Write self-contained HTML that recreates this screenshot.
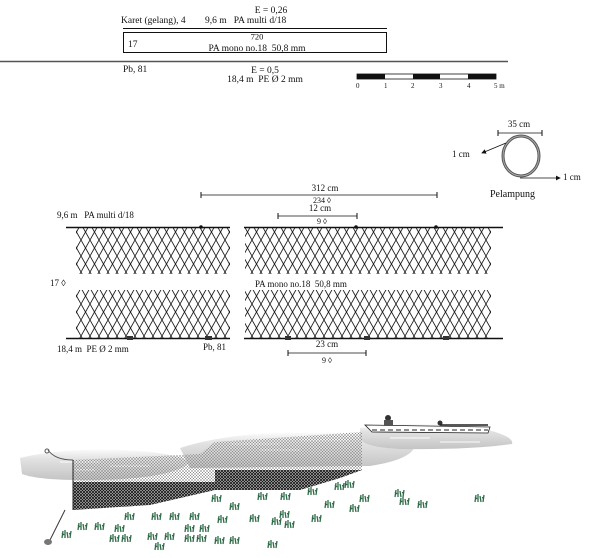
<!DOCTYPE html>
<html><head><meta charset="utf-8"><style>
html,body{margin:0;padding:0;background:#fff;}
svg{display:block;font-family:"Liberation Serif",serif;}
text{fill:#111;}
</style></head><body>
<svg width="604" height="558" viewBox="0 0 604 558" xmlns="http://www.w3.org/2000/svg">
<defs>
<pattern id="mesh" width="9" height="16" patternUnits="userSpaceOnUse">
<path d="M0,0 L4.5,8 L0,16 M9,0 L4.5,8 L9,16" stroke="#222" stroke-width="0.9" fill="none"/>
</pattern>
<pattern id="hatchL" width="3" height="3" patternUnits="userSpaceOnUse">
<path d="M0,0 L3,3 M3,0 L0,3" stroke="#8a8a8a" stroke-width="0.5"/>
</pattern>
<pattern id="hatchD" width="3" height="3" patternUnits="userSpaceOnUse">
<rect width="3" height="3" fill="#ccc"/>
<path d="M0,0 L3,3 M3,0 L0,3" stroke="#111" stroke-width="0.8"/>
</pattern>
<linearGradient id="wg" x1="0" y1="0" x2="0" y2="1">
<stop offset="0" stop-color="#fafafa"/><stop offset="0.3" stop-color="#e2e2e2"/><stop offset="1" stop-color="#c4c4c4"/>
</linearGradient>
<marker id="ab" markerWidth="6" markerHeight="6" refX="5" refY="3" orient="auto"><path d="M0,0 L6,3 L0,6z" fill="#111"/></marker>
<g id="w" stroke="#2e6b46" stroke-width="1.3" fill="none"><path d="M0,0 l1,-7 M3,0 l0,-8 M6,0 l-1,-6 M8,0 l1,-7 M2,-3 l-2,-2 M7,-4 l2,-1"/></g>
</defs>

<g font-size="9.5">
<text x="271" y="13" text-anchor="middle">E = 0,26</text>
<text x="121" y="23">Karet (gelang), 4</text>
<text x="205" y="23" xml:space="preserve">9,6 m   PA multi d/18</text>
<line x1="123" y1="28.5" x2="387" y2="28.5" stroke="#111" stroke-width="1"/>
<rect x="123.5" y="32.5" width="263" height="20" fill="none" stroke="#111" stroke-width="1"/>
<text x="257" y="39.5" text-anchor="middle" font-size="8.5">720</text>
<text x="128" y="47">17</text>
<text x="257" y="51" text-anchor="middle" xml:space="preserve">PA mono no.18  50,8 mm</text>
<line x1="0" y1="61.5" x2="508" y2="61.5" stroke="#555" stroke-width="1.5"/>
<text x="123" y="72">Pb, 81</text>
<text x="265" y="73" text-anchor="middle">E = 0,5</text>
<text x="265" y="82" text-anchor="middle" xml:space="preserve">18,4 m  PE Ø 2 mm</text>
</g>
<rect x="357" y="74" width="139" height="5" fill="#fff" stroke="#111" stroke-width="0.8"/>
<rect x="357" y="74" width="28" height="5" fill="#111"/>
<rect x="413" y="74" width="27" height="5" fill="#111"/>
<rect x="468" y="74" width="28" height="5" fill="#111"/>
<g font-size="7">
<text x="356" y="88">0</text><text x="384" y="88">1</text><text x="411" y="88">2</text>
<text x="439" y="88">3</text><text x="467" y="88">4</text><text x="494" y="88">5 m</text>
</g>

<g font-size="9">
<text x="519" y="127" text-anchor="middle">35 cm</text>
<line x1="498" y1="133" x2="542" y2="133" stroke="#111" stroke-width="0.8"/>
<line x1="498" y1="130" x2="498" y2="136" stroke="#111"/><line x1="542" y1="130" x2="542" y2="136" stroke="#111"/>
<ellipse cx="521" cy="156" rx="18" ry="20" fill="none" stroke="#555" stroke-width="3"/>
<ellipse cx="521" cy="156" rx="18" ry="20" fill="none" stroke="#aaa" stroke-width="1"/>
<text x="452" y="157">1 cm</text>
<line x1="506" y1="143" x2="482" y2="153" stroke="#111" stroke-width="0.8" marker-end="url(#ab)"/>
<text x="563" y="180">1 cm</text>
<line x1="520" y1="178" x2="560" y2="178" stroke="#111" stroke-width="0.8" marker-end="url(#ab)"/>
<text x="490" y="197" font-size="10">Pelampung</text>
</g>

<g font-size="9">
<text x="325" y="191" text-anchor="middle">312 cm</text>
<line x1="201" y1="195" x2="437" y2="195" stroke="#111" stroke-width="0.8"/>
<line x1="201" y1="192" x2="201" y2="198" stroke="#111"/><line x1="437" y1="192" x2="437" y2="198" stroke="#111"/>
<text x="322" y="203" text-anchor="middle" font-size="8">234 ◊</text>
<text x="57" y="218" xml:space="preserve">9,6 m   PA multi d/18</text>
<text x="320" y="211" text-anchor="middle">12 cm</text>
<line x1="278" y1="216" x2="357" y2="216" stroke="#111" stroke-width="0.8"/>
<line x1="278" y1="213" x2="278" y2="219" stroke="#111"/><line x1="357" y1="213" x2="357" y2="219" stroke="#111"/>
<text x="322" y="224" text-anchor="middle" font-size="8">9 ◊</text>

<rect x="76" y="228" width="154" height="46" fill="url(#mesh)"/>
<rect x="76" y="290" width="154" height="48" fill="url(#mesh)"/>
<rect x="245" y="228" width="246" height="46" fill="url(#mesh)"/>
<rect x="245" y="290" width="246" height="48" fill="url(#mesh)"/>
<line x1="66" y1="227.5" x2="230" y2="227.5" stroke="#111" stroke-width="1.5"/>
<line x1="244" y1="227.5" x2="503" y2="227.5" stroke="#111" stroke-width="1.5"/>
<line x1="66" y1="338.5" x2="230" y2="338.5" stroke="#111" stroke-width="1.5"/>
<line x1="244" y1="338.5" x2="503" y2="338.5" stroke="#111" stroke-width="1.5"/>
<circle cx="201" cy="227" r="1.8" fill="#111"/><circle cx="356" cy="227" r="1.8" fill="#111"/><circle cx="436" cy="227" r="1.8" fill="#111"/>
<g fill="#333"><rect x="127" y="336" width="6" height="4"/><rect x="205" y="336" width="7" height="4"/><rect x="285" y="336" width="6" height="4"/><rect x="364" y="336" width="6" height="4"/><rect x="443" y="336" width="6" height="4"/></g>
<text x="50" y="286">17 ◊</text>
<text x="255" y="287" xml:space="preserve">PA mono no.18  50,8 mm</text>
<text x="57" y="352" xml:space="preserve">18,4 m  PE Ø 2 mm</text>
<text x="203" y="350">Pb, 81</text>
<text x="327" y="347" text-anchor="middle">23 cm</text>
<line x1="288" y1="353" x2="366" y2="353" stroke="#111" stroke-width="0.8"/>
<line x1="288" y1="350" x2="288" y2="356" stroke="#111"/><line x1="366" y1="350" x2="366" y2="356" stroke="#111"/>
<text x="327" y="363" text-anchor="middle" font-size="8">9 ◊</text>
</g>

<path d="M20,458 Q60,448 120,450 Q175,452 190,462 Q175,478 100,480 Q40,481 22,474z" fill="url(#wg)"/>
<path d="M180,448 Q230,432 300,433 Q380,431 415,440 Q420,458 370,466 L190,468z" fill="url(#wg)"/>
<path d="M360,428 Q420,420 480,428 Q515,436 512,444 Q470,450 400,449 Q362,447 360,438z" fill="url(#wg)"/>
<g stroke="#fff" stroke-width="1" opacity="0.9">
<line x1="60" y1="462" x2="100" y2="462"/><line x1="110" y1="466" x2="150" y2="466"/><line x1="75" y1="470" x2="95" y2="470"/>
<line x1="230" y1="444" x2="280" y2="444"/><line x1="300" y1="440" x2="350" y2="440"/><line x1="260" y1="450" x2="300" y2="450"/>
<line x1="390" y1="438" x2="430" y2="438"/><line x1="440" y1="442" x2="480" y2="442"/>
</g>
<path d="M73,460 L200,454 L215,442 L362,432 L362,470 L215,470 L215,482 L73,484z" fill="url(#hatchL)"/>
<path d="M73,482 L215,482 L215,470 L362,470 L340,478 L300,490 L215,490 L150,505 L73,510z" fill="url(#hatchD)"/>
<line x1="73" y1="460" x2="73" y2="510" stroke="#222" stroke-width="1"/>
<path d="M73,460 Q55,460 48,450" stroke="#555" fill="none"/>
<circle cx="47" cy="451" r="2" fill="none" stroke="#555"/>
<line x1="65" y1="510" x2="50" y2="540" stroke="#333"/>
<ellipse cx="48" cy="542" rx="4" ry="3" fill="#777"/>
<path d="M365,425 L490,427 L488,433 L372,432z" fill="#fff" stroke="#222" stroke-width="0.8"/>
<line x1="372" y1="430" x2="488" y2="430" stroke="#222" stroke-dasharray="5,3"/>
<circle cx="388" cy="418" r="3" fill="#333"/><rect x="384" y="420" width="9" height="6" fill="#555"/>
<circle cx="440" cy="423" r="2.5" fill="#333"/><line x1="440" y1="425" x2="488" y2="425" stroke="#222" stroke-width="1.5"/>
<g>
<use href="#w" x="212" y="502"/><use href="#w" x="230" y="510"/><use href="#w" x="258" y="500"/><use href="#w" x="281" y="500"/><use href="#w" x="308" y="495"/><use href="#w" x="335" y="490"/><use href="#w" x="345" y="488"/><use href="#w" x="395" y="497"/><use href="#w" x="418" y="508"/><use href="#w" x="475" y="502"/>
<use href="#w" x="325" y="508"/><use href="#w" x="350" y="512"/><use href="#w" x="360" y="502"/><use href="#w" x="400" y="505"/>
<use href="#w" x="62" y="538"/><use href="#w" x="78" y="530"/><use href="#w" x="95" y="530"/><use href="#w" x="115" y="532"/><use href="#w" x="125" y="520"/><use href="#w" x="152" y="520"/><use href="#w" x="170" y="520"/><use href="#w" x="190" y="520"/><use href="#w" x="218" y="523"/><use href="#w" x="250" y="522"/><use href="#w" x="272" y="525"/><use href="#w" x="285" y="528"/><use href="#w" x="312" y="522"/><use href="#w" x="280" y="518"/>
<use href="#w" x="110" y="542"/><use href="#w" x="122" y="542"/><use href="#w" x="148" y="540"/><use href="#w" x="165" y="540"/><use href="#w" x="185" y="542"/><use href="#w" x="197" y="542"/><use href="#w" x="215" y="544"/><use href="#w" x="230" y="544"/><use href="#w" x="268" y="548"/><use href="#w" x="185" y="532"/><use href="#w" x="200" y="532"/><use href="#w" x="155" y="550"/>
</g>
</svg>
</body></html>
